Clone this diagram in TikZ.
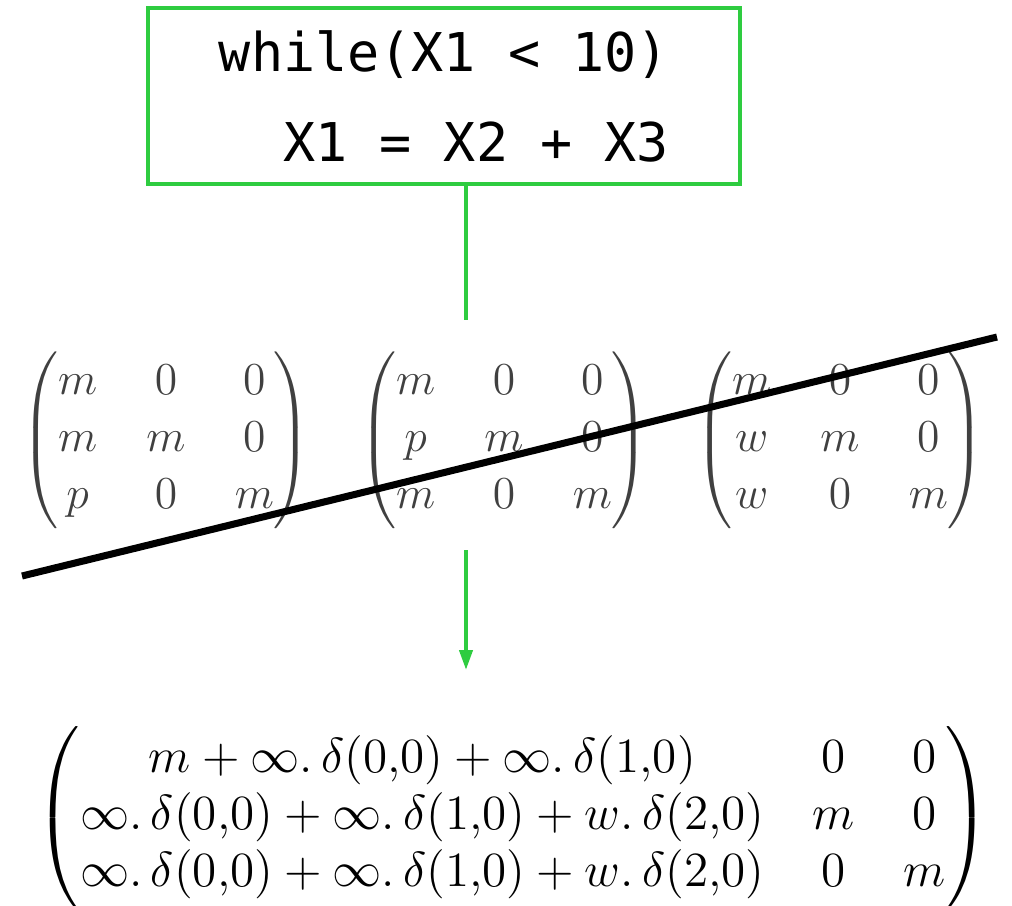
\RequirePackage{fix-cm}
\documentclass[tikz,border=0pt]{standalone}
\usepackage{amsmath}
\usepackage{fontspec}
\setmonofont{DejaVu Sans Mono}
\usetikzlibrary{arrows.meta, positioning}
\definecolor{codegreen}{RGB}{46,204,64}
\definecolor{matgray}{RGB}{64,64,64}

\begin{document}
\begin{tikzpicture}[thick,
    codebox/.style={draw=codegreen, line width=1.15pt, rectangle, minimum width=5.92cm, minimum height=1.76cm, inner sep=0pt, align=left, font=\ttfamily\fontsize{15.2}{25.6}\selectfont},
    flow/.style={draw=codegreen, line width=1.15pt},
    smallmat/.style={text=matgray, inner sep=0pt, font=\fontsize{13}{16.2}\selectfont, execute at begin node={\setlength\arraycolsep{7pt}}},
    bigmat/.style={inner sep=0pt, font=\fontsize{14}{16.2}\selectfont, execute at begin node={\setlength\arraycolsep{6.9pt}}}]
    \useasboundingbox (0,0) rectangle (10.12,-9.05);

    % Loop code
    \node [codebox] (loop) at (4.44,-0.96) {while(X1 < 10)\\\phantom{wh}X1 = X2 + X3};

    % Candidate matrices
    \node [smallmat] (mat1) at (1.66,-4.40) {$\begin{pmatrix} m & 0 & 0\\ m & m & 0\\ p & 0 & m \end{pmatrix}$};
    \node [smallmat] (mat2) at (5.04,-4.40) {$\begin{pmatrix} m & 0 & 0\\ p & m & 0\\ m & 0 & m \end{pmatrix}$};
    \node [smallmat] (mat3) at (8.40,-4.40) {$\begin{pmatrix} m & 0 & 0\\ w & m & 0\\ w & 0 & m \end{pmatrix}$};

    % Strike-through
    \draw [line width=2pt] (0.22,-5.76) -- (9.97,-3.37);

    % Result matrix
    \node [bigmat] (result) at (5.13,-8.18) {$\begin{pmatrix}
        m + \infty.\,\delta(0{,}0) + \infty.\,\delta(1{,}0) & 0 & 0\\
        \infty.\,\delta(0{,}0) + \infty.\,\delta(1{,}0) + w.\,\delta(2{,}0) & m & 0\\
        \infty.\,\delta(0{,}0) + \infty.\,\delta(1{,}0) + w.\,\delta(2{,}0) & 0 & m
    \end{pmatrix}$};

    % Connections
    \coordinate (stemend) at (4.66,-3.20);
    \coordinate (arrowtop) at (4.66,-5.50);
    \coordinate (arrowend) at (4.66,-6.70);
    \draw [flow] (stemend |- loop.south) -- (stemend);
    \draw [flow, -{Triangle[length=2mm, width=1.3mm]}] (arrowtop) -- (arrowend);
\end{tikzpicture}
\end{document}
